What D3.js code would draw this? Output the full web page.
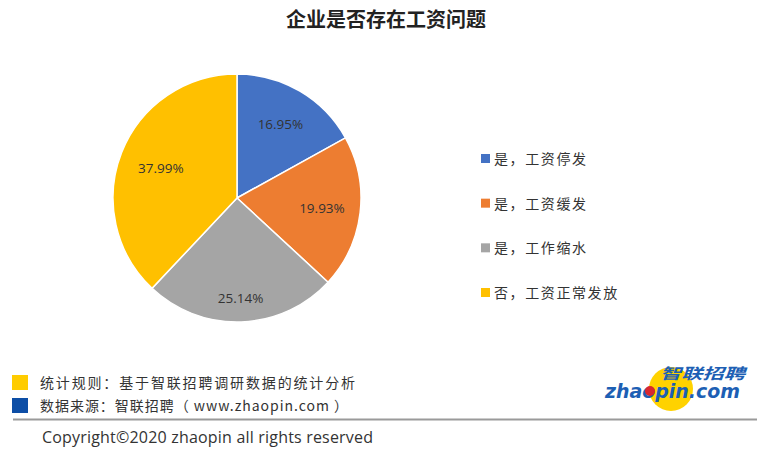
<!DOCTYPE html>
<html><head><meta charset="utf-8">
<script src="https://cdn.jsdelivr.net/npm/d3@7"></script>
<style>body{margin:0;background:#fff;}svg{display:block;font-family:"Noto Sans CJK SC","Noto Sans",sans-serif;}</style>
</head><body>
<script>
const categories = ["是，工资停发","是，工资缓发","是，工作缩水","否，工资正常发放"];
const values = [16.95, 19.93, 25.14, 37.99];
const colors = ["#4472c4","#ed7d31","#a5a5a5","#ffc000"];
const title = "企业是否存在工资问题";
const notes = ["统计规则：基于智联招聘调研数据的统计分析","数据来源：智联招聘（ www.zhaopin.com ）"];
const noteColors = ["#ffcc00","#0d4ea6"];
const copyright = "Copyright©2020 zhaopin all rights reserved";

// styling constants
const labelRadiusFactor = [0.69, 0.69, 0.81, 0.66];
const noteWidths = [315, 308];

const W=773,H=454;
const svg=d3.select("body").append("svg").attr("width",W).attr("height",H);
svg.append("text").attr("x",386).attr("y",20).attr("dy","0.35em").attr("text-anchor","middle")
  .attr("font-size",20).attr("font-weight","bold").attr("fill","#222").text(title);

const cx=237, cy=198, r=124;
const pie=d3.pie().sort(null).value(d=>d);
const arcs=pie(values);
const arc=d3.arc().innerRadius(0).outerRadius(r);
const g=svg.append("g").attr("transform",`translate(${cx},${cy})`);
g.selectAll("path").data(arcs).join("path").attr("d",arc)
  .attr("fill",(d,i)=>colors[i]).attr("stroke","#fff").attr("stroke-width",1.5);
g.selectAll("text").data(arcs).join("text")
  .attr("transform",(d,i)=>{const rr=r*labelRadiusFactor[i];return `translate(${d3.arc().innerRadius(rr).outerRadius(rr).centroid(d)})`;})
  .attr("text-anchor","middle").attr("dy","0.35em")
  .attr("font-size",13.5).attr("fill","#333").attr("font-family","Open Sans, Noto Sans, sans-serif")
  .text(d=>d.data.toFixed(2)+"%");

const leg=svg.append("g");
const ly=d3.scalePoint().domain(categories).range([159,293]);
categories.forEach((c,i)=>{
  leg.append("rect").attr("x",481).attr("y",ly(c)-5).attr("width",9).attr("height",9).attr("fill",colors[i]);
  leg.append("text").attr("x",494).attr("y",ly(c)).attr("dy","0.35em").attr("font-size",14)
    .attr("letter-spacing",1.6).attr("fill","#333").text(c);
});

notes.forEach((n,i)=>{
  const y=383+i*23;
  svg.append("rect").attr("x",12).attr("y",y-8).attr("width",16).attr("height",15).attr("fill",noteColors[i]);
  svg.append("text").attr("x",40).attr("y",y).attr("dy","0.35em").attr("font-size",14).attr("fill","#333")
    .attr("textLength",noteWidths[i]).attr("lengthAdjust","spacing").text(n);
});
svg.append("line").attr("x1",13).attr("x2",757).attr("y1",419.5).attr("y2",419.5).attr("stroke","#9a9a9a").attr("stroke-width",2);
svg.append("text").attr("x",42).attr("y",437).attr("dy","0.35em").attr("font-size",16).attr("fill","#333")
  .attr("font-family","Open Sans, Noto Sans, sans-serif").attr("textLength",331).text(copyright);

// logo
const lg=svg.append("g");
lg.append("circle").attr("cx",671).attr("cy",389).attr("r",22).attr("fill","#ffd200");
lg.append("text").attr("x",605).attr("y",398).attr("font-size",19).attr("font-weight","bold").attr("font-style","italic")
  .attr("fill","#1d5fb4").attr("font-family","DejaVu Sans, sans-serif").attr("textLength",135).attr("lengthAdjust","spacingAndGlyphs").text("zhaopin.com");
lg.append("circle").attr("cx",650).attr("cy",391).attr("r",5).attr("fill","#d9272e");
lg.append("text").attr("x",660).attr("y",379).attr("font-size",15).attr("font-weight","bold").attr("font-style","italic")
  .attr("fill","#1d5fb4").attr("textLength",85).attr("lengthAdjust","spacingAndGlyphs").text("智联招聘");
</script>
</body></html>
